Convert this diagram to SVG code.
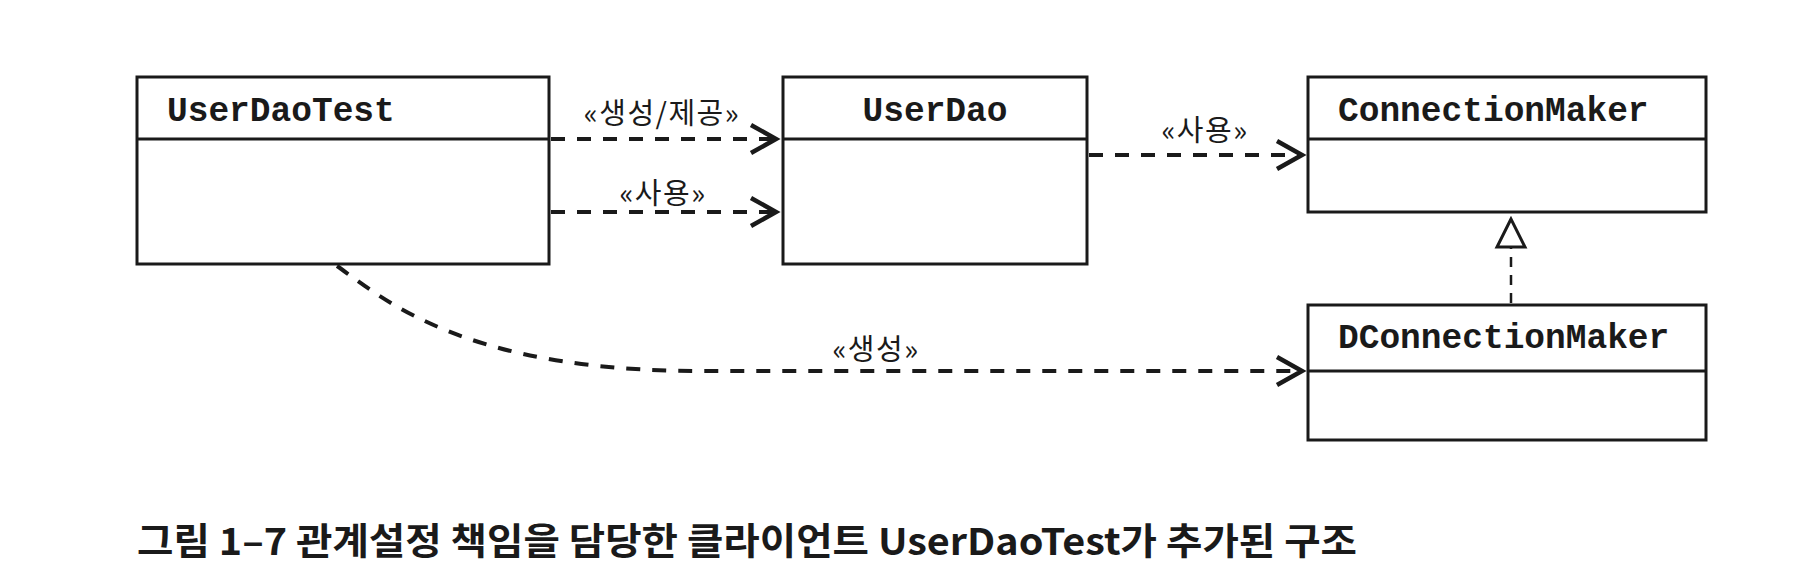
<svg xmlns="http://www.w3.org/2000/svg" width="1820" height="584" viewBox="0 0 1820 584">
<defs>
<style>
.box{fill:#fff;stroke:#1a1a1a;stroke-width:3}
.div{stroke:#1a1a1a;stroke-width:3}
.cls{font-family:"Liberation Mono","Courier New",monospace;font-weight:700;font-size:34.5px;fill:#1a1a1a}
.lbl{font-family:"Noto Sans CJK KR","Noto Sans",sans-serif;font-size:29px;fill:#1a1a1a;text-anchor:middle;letter-spacing:1.5px}
.dep{fill:none;stroke:#1a1a1a;stroke-width:4;stroke-dasharray:14 12;marker-end:url(#open)}
.real{fill:none;stroke:#1a1a1a;stroke-width:2.5;stroke-dasharray:10 8}
.cap{font-family:"Noto Sans CJK KR","Noto Sans",sans-serif;font-weight:700;font-size:37px;fill:#1a1a1a}
</style>
<marker id="open" markerUnits="userSpaceOnUse" markerWidth="34" markerHeight="36" viewBox="0 0 34 36" refX="28" refY="18" orient="auto">
<path d="M3,4 L28,18 L3,32" fill="none" stroke="#1a1a1a" stroke-width="4.5"/>
</marker>
</defs>
<rect width="1820" height="584" fill="#fff"/>

<g id="UserDaoTest">
<rect class="box" x="137" y="77" width="412" height="187"/>
<line class="div" x1="137" y1="139" x2="549" y2="139"/>
<text class="cls" x="167" y="121">UserDaoTest</text>
</g>

<g id="UserDao">
<rect class="box" x="783" y="77" width="304" height="187"/>
<line class="div" x1="783" y1="139" x2="1087" y2="139"/>
<text class="cls" x="935" y="121" text-anchor="middle">UserDao</text>
</g>

<g id="ConnectionMaker">
<rect class="box" x="1308" y="77" width="398" height="135"/>
<line class="div" x1="1308" y1="139" x2="1706" y2="139"/>
<text class="cls" x="1338" y="121">ConnectionMaker</text>
</g>

<g id="DConnectionMaker">
<rect class="box" x="1308" y="305" width="398" height="135"/>
<line class="div" x1="1308" y1="371" x2="1706" y2="371"/>
<text class="cls" x="1338" y="348">DConnectionMaker</text>
</g>

<g id="connectors">
<path class="dep" d="M551,139 L776,139"/>
<path class="dep" d="M551,212 L776,212"/>
<path class="dep" d="M1089,155 L1302,155"/>
<path class="dep" d="M337,266 C385,300 465,371 700,371 L1302,371"/>
<path class="real" d="M1511,303 L1511,247"/>
<polygon points="1511,219 1497,247 1525,247" fill="#fff" stroke="#1a1a1a" stroke-width="3"/>
<text class="lbl" x="662" y="124">«생성/제공»</text>
<text class="lbl" x="663" y="204">«사용»</text>
<text class="lbl" x="1205" y="141">«사용»</text>
<text class="lbl" x="876" y="360">«생성»</text>
</g>

<text class="cap" x="137" y="555" textLength="1220" lengthAdjust="spacingAndGlyphs">그림 1–7 관계설정 책임을 담당한 클라이언트 UserDaoTest가 추가된 구조</text>
</svg>
